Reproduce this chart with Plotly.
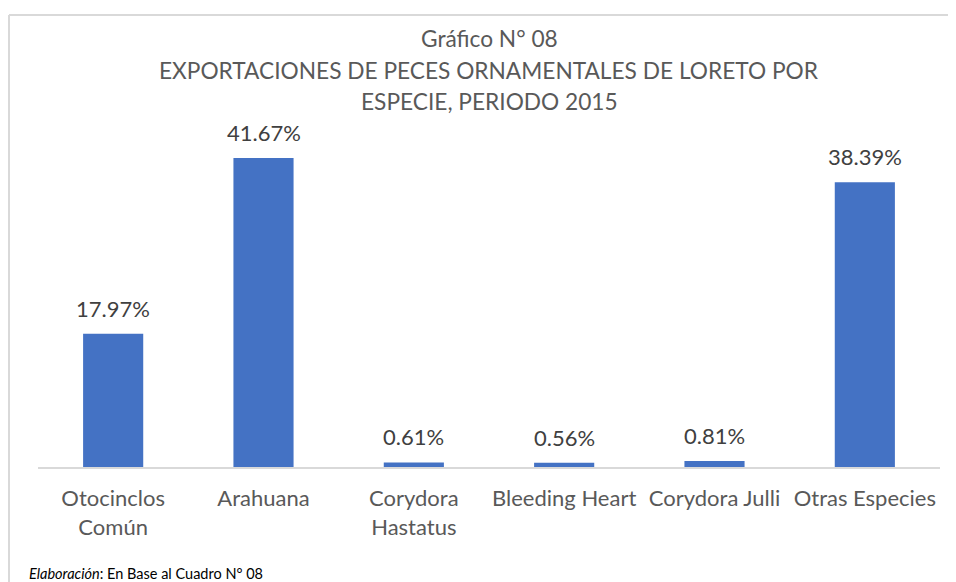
import plotly.graph_objects as go

categories = ["Otocinclos<br>Común", "Arahuana", "Corydora<br>Hastatus", "Bleeding Heart", "Corydora Julli", "Otras Especies"]
values = [17.97, 41.67, 0.61, 0.56, 0.81, 38.39]
labels = ["17.97%", "41.67%", "0.61%", "0.56%", "0.81%", "38.39%"]
title_lines = ["Gráfico N° 08",
               "EXPORTACIONES DE PECES ORNAMENTALES DE LORETO POR",
               "ESPECIE, PERIODO 2015"]
footer = "<i>Elaboración</i>: En Base al Cuadro N° 08"

FONT = "Lato"
BLUE = "#4472C4"

# page offset (body margin) of 8px
OFF = 8
L, T, PW, PH = 38 - OFF, 140 - OFF, 902, 327
AX = 467  # baseline in reference pixels


def px(x):
    return (x - 38) / PW


def py(y):
    return (AX - y) / PH


fig = go.Figure()
fig.add_trace(go.Bar(x=categories, y=values, marker=dict(color=BLUE, line=dict(width=0)), width=0.4))

annotations = []
for c, v, t in zip(categories, values, labels):
    annotations.append(dict(x=c, y=v, text=t, showarrow=False, xref="x", yref="y",
                            yanchor="bottom", yshift=10,
                            font=dict(family=FONT, size=22, color="#404040")))

for i, line in enumerate(title_lines):
    annotations.append(dict(x=px(489), y=py(38 + 32 * i), xref="paper", yref="paper",
                            text=line, showarrow=False, xanchor="center", yanchor="middle",
                            font=dict(family=FONT, size=22.7, color="#595959")))
annotations.append(dict(x=px(27), y=py(573), xref="paper", yref="paper",
                        text=footer, showarrow=False, xanchor="left", yanchor="middle",
                        font=dict(family=FONT, size=14.5, color="#000000")))

shapes = [
    dict(type="line", xref="paper", yref="paper", x0=px(9), x1=1.2,
         y0=py(15), y1=py(15), line=dict(color="#D9D9D9", width=2)),
    dict(type="line", xref="paper", yref="paper", x0=px(9), x1=px(9),
         y0=py(15), y1=-0.6, line=dict(color="#D9D9D9", width=2)),
]

fig.update_layout(
    width=956, height=582,
    margin=dict(l=L, r=956 - L - PW, t=T, b=582 - T - PH),
    paper_bgcolor="white", plot_bgcolor="white",
    showlegend=False,
    annotations=annotations, shapes=shapes,
    bargap=0.6,
    xaxis=dict(showline=True, linecolor="#D9D9D9", linewidth=1.5, showgrid=False,
               tickfont=dict(family=FONT, size=22, color="#595959"),
               ticks="", ticklabelstandoff=11, fixedrange=True),
    yaxis=dict(range=[0, PH / 7.415], visible=False, showgrid=False, fixedrange=True),
)

fig.write_html("out.html", config={"displayModeBar": False})
